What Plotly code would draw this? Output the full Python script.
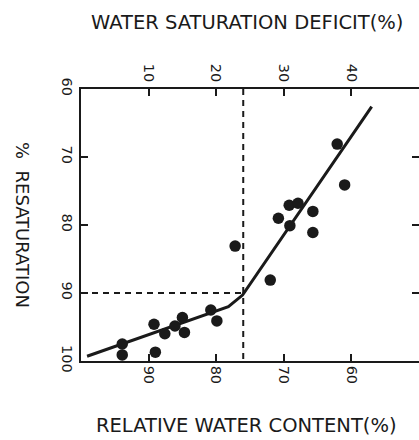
import plotly.graph_objects as go

# Relative water content (%) and % resaturation of the sampled leaves
rwc = [93.9, 93.9, 89.2, 89.0, 87.6, 86.1, 85.0, 84.7, 80.8, 79.9,
       77.2, 72.0, 70.8, 69.2, 67.9, 69.1, 65.7, 65.7, 62.1, 61.0]
resat = [97.5, 99.1, 94.6, 98.7, 96.0, 94.85, 93.6, 95.8, 92.5, 94.1,
         83.1, 88.1, 79.0, 77.1, 76.8, 80.1, 78.0, 81.1, 68.1, 74.1]

# Fitted broken-line relationship
fit_rwc = [99.1, 78.2, 76.1, 57.0]
fit_resat = [99.3, 92.0, 90.3, 62.6]

# Critical point marked by dashed guides
crit_rwc = 76
crit_resat = 90

rwc_ticks = [90, 80, 70, 60]
wsd_ticks = [10, 20, 30, 40]
resat_ticks = [60, 70, 80, 90, 100]

ink = "#1a1a1a"
font = dict(family="DejaVu Sans, Verdana, sans-serif", color=ink)

fig = go.Figure()

fig.add_trace(go.Scatter(
    x=fit_rwc, y=fit_resat, mode="lines",
    line=dict(color=ink, width=3), hoverinfo="skip", showlegend=False))

fig.add_trace(go.Scatter(
    x=rwc, y=resat, mode="markers",
    marker=dict(color=ink, size=11.5, line=dict(width=0)), showlegend=False))

# Dashed guides at the critical point
fig.add_shape(type="line", xref="x", yref="y", x0=100, x1=crit_rwc,
              y0=crit_resat, y1=crit_resat,
              line=dict(color=ink, width=2, dash="6px,5px"))
fig.add_shape(type="line", xref="x", yref="y", x0=crit_rwc, x1=crit_rwc,
              y0=60, y1=100,
              line=dict(color=ink, width=2, dash="6px,5px"))

axis_common = dict(
    ticks="inside", ticklen=7, tickwidth=1.5, tickcolor=ink,
    tickangle=90, showgrid=False, zeroline=False,
    tickfont=dict(size=14.5, **font),
)

fig.update_layout(
    width=419, height=440,
    margin=dict(l=81, r=0, t=89, b=79),
    paper_bgcolor="white", plot_bgcolor="white",
    showlegend=False,
    xaxis=dict(range=[100, 50], tickvals=rwc_ticks, showline=True,
               linecolor=ink, linewidth=1.5, **axis_common),
    xaxis2=dict(range=[0, 50], tickvals=wsd_ticks, overlaying="x",
                side="top", showline=True, linecolor=ink, linewidth=1.5,
                **axis_common),
    yaxis=dict(range=[100, 60], tickvals=resat_ticks, showline=True,
               linecolor=ink, linewidth=1.5, **axis_common),
    yaxis2=dict(range=[100, 60], tickvals=[70, 80, 90], overlaying="y",
                side="right", showline=False, showticklabels=False,
                ticks="inside", ticklen=7, tickwidth=1.5, tickcolor=ink,
                showgrid=False, zeroline=False),
)

# Empty traces that bring the top and right axes into use
fig.add_trace(go.Scatter(x=[0, 50], y=[None, None], xaxis="x2",
                         mode="markers", showlegend=False, hoverinfo="skip"))
fig.add_trace(go.Scatter(x=[None], y=[None], yaxis="y2",
                         mode="markers", showlegend=False, hoverinfo="skip"))

fig.add_annotation(text="WATER SATURATION DEFICIT(%)", xref="paper", yref="paper",
                   x=0.49, y=1 + (89 - 22) / 272, showarrow=False,
                   xanchor="center", yanchor="middle",
                   font=dict(size=19.5, **font))
fig.add_annotation(text="RELATIVE WATER CONTENT(%)", xref="paper", yref="paper",
                   x=0.49, y=-(425 - 361) / 272, showarrow=False,
                   xanchor="center", yanchor="middle",
                   font=dict(size=19.5, **font))
fig.add_annotation(text="%  RESATURATION", xref="paper", yref="paper",
                   x=(23 - 81) / 338, y=1 - (225 - 89) / 272, showarrow=False,
                   xanchor="center", yanchor="middle", textangle=90,
                   font=dict(size=18, **font))

fig.write_html("out.html")
